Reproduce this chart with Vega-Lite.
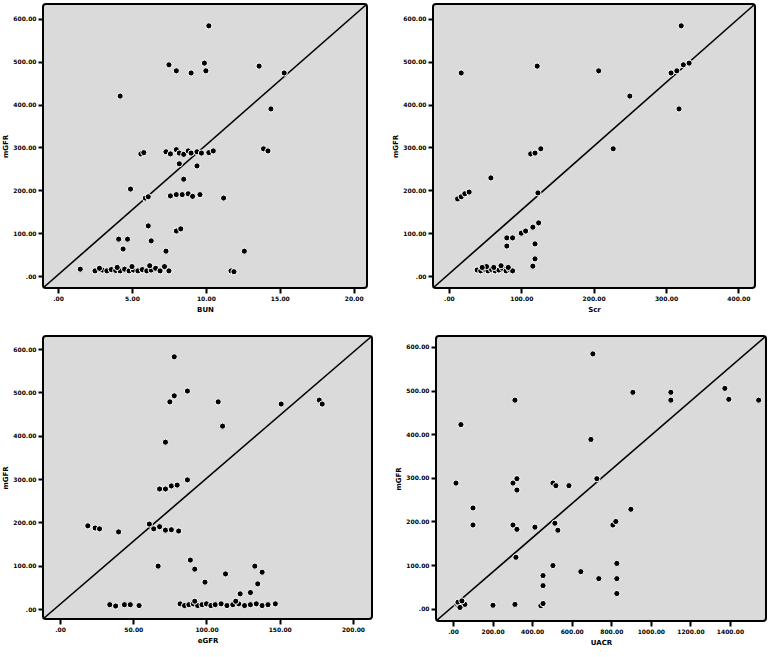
{
  "$schema": "https://vega.github.io/schema/vega-lite/v6.json",
  "padding": {"left": 0, "top": 2, "right": 5, "bottom": 5},
  "background": "white",
  "spacing": 21,
  "datasets": {
    "tl": [{"x":10.2,"y":584},{"x":7.5,"y":493},{"x":8.0,"y":479},{"x":9.0,"y":474},{"x":9.9,"y":497},{"x":10.0,"y":479},{"x":13.6,"y":490},{"x":15.3,"y":474},{"x":4.2,"y":420},{"x":14.4,"y":390},{"x":13.9,"y":297},{"x":14.2,"y":292},
      {"x":5.6,"y":285},{"x":5.8,"y":288},{"x":7.3,"y":290},{"x":7.6,"y":285},{"x":8.0,"y":295},{"x":8.2,"y":287},{"x":8.5,"y":284},{"x":8.8,"y":292},{"x":9.0,"y":287},{"x":9.4,"y":290},{"x":9.7,"y":287},{"x":10.2,"y":288},{"x":10.5,"y":292},
      {"x":9.4,"y":257},{"x":8.2,"y":262},{"x":8.5,"y":226},{"x":4.9,"y":203},{"x":5.9,"y":182},{"x":6.1,"y":185},{"x":7.6,"y":187},{"x":8.0,"y":190},{"x":8.4,"y":190},{"x":8.8,"y":192},{"x":9.1,"y":186},{"x":9.6,"y":190},{"x":11.2,"y":182},
      {"x":4.1,"y":86},{"x":4.7,"y":86},{"x":6.1,"y":117},{"x":4.4,"y":63},{"x":6.3,"y":82},{"x":8.0,"y":105},{"x":8.3,"y":110},{"x":7.3,"y":58},{"x":12.6,"y":58},{"x":11.7,"y":12},{"x":11.9,"y":10},
      {"x":1.5,"y":16},{"x":2.5,"y":12},{"x":3.0,"y":14},{"x":3.3,"y":12},{"x":3.6,"y":15},{"x":3.9,"y":13},{"x":4.2,"y":12},{"x":4.5,"y":16},{"x":4.8,"y":12},{"x":5.1,"y":14},{"x":5.4,"y":12},{"x":5.7,"y":15},{"x":6.0,"y":12},{"x":6.3,"y":14},{"x":6.6,"y":18},{"x":6.9,"y":12},{"x":7.2,"y":22},{"x":2.8,"y":18},{"x":4.0,"y":20},{"x":5.0,"y":22},{"x":6.2,"y":24},{"x":7.5,"y":12}],
    "tr": [{"x":321,"y":584},{"x":17,"y":474},{"x":122,"y":490},{"x":207,"y":479},{"x":307,"y":474},{"x":315,"y":479},{"x":324,"y":493},{"x":332,"y":497},{"x":250,"y":420},{"x":318,"y":390},{"x":227,"y":297},{"x":113,"y":285},{"x":119,"y":287},{"x":127,"y":297},{"x":58,"y":229},{"x":12,"y":180},{"x":17,"y":185},{"x":22,"y":192},{"x":28,"y":196},{"x":123,"y":194},
      {"x":80,"y":89},{"x":80,"y":70},{"x":88,"y":89},{"x":100,"y":100},{"x":106,"y":105},{"x":116,"y":114},{"x":124,"y":124},{"x":119,"y":75},{"x":119,"y":40},{"x":116,"y":23},
      {"x":39,"y":14},{"x":44,"y":12},{"x":49,"y":16},{"x":54,"y":12},{"x":59,"y":15},{"x":64,"y":12},{"x":69,"y":14},{"x":74,"y":18},{"x":79,"y":12},{"x":84,"y":15},{"x":88,"y":12},{"x":52,"y":22},{"x":62,"y":20},{"x":72,"y":24},{"x":46,"y":20},{"x":82,"y":20}],
    "bl": [{"x":78,"y":582},{"x":75,"y":478},{"x":78,"y":492},{"x":87,"y":503},{"x":108,"y":478},{"x":111,"y":422},{"x":151,"y":473},{"x":177,"y":482},{"x":179,"y":473},{"x":72,"y":385},{"x":87,"y":298},{"x":68,"y":277},{"x":72,"y":277},{"x":76,"y":284},{"x":80,"y":286},
      {"x":19,"y":192},{"x":24,"y":187},{"x":27,"y":185},{"x":40,"y":178},{"x":61,"y":196},{"x":64,"y":185},{"x":68,"y":190},{"x":72,"y":182},{"x":76,"y":183},{"x":81,"y":180},
      {"x":67,"y":99},{"x":89,"y":113},{"x":92,"y":92},{"x":99,"y":62},{"x":113,"y":81},{"x":133,"y":99},{"x":138,"y":85},{"x":135,"y":58},{"x":123,"y":35},{"x":130,"y":38},
      {"x":34,"y":10},{"x":38,"y":7},{"x":44,"y":10},{"x":48,"y":10},{"x":54,"y":8},
      {"x":82,"y":12},{"x":85,"y":8},{"x":88,"y":10},{"x":91,"y":12},{"x":94,"y":8},{"x":97,"y":10},{"x":100,"y":12},{"x":103,"y":8},{"x":106,"y":10},{"x":110,"y":12},{"x":114,"y":8},{"x":118,"y":10},{"x":122,"y":12},{"x":126,"y":8},{"x":130,"y":10},{"x":134,"y":12},{"x":138,"y":8},{"x":142,"y":10},{"x":147,"y":12},{"x":92,"y":18},{"x":120,"y":18}],
    "br": [{"x":707,"y":584},{"x":40,"y":422},{"x":313,"y":478},{"x":909,"y":496},{"x":1101,"y":496},{"x":1101,"y":478},{"x":1374,"y":505},{"x":1394,"y":480},{"x":1545,"y":478},{"x":697,"y":388},{"x":15,"y":288},{"x":303,"y":288},{"x":323,"y":298},{"x":323,"y":272},{"x":505,"y":288},{"x":520,"y":282},{"x":586,"y":282},{"x":727,"y":298},{"x":101,"y":231},{"x":101,"y":192},{"x":303,"y":192},{"x":323,"y":182},{"x":414,"y":187},{"x":515,"y":196},{"x":530,"y":180},{"x":808,"y":192},{"x":823,"y":200},{"x":899,"y":228},{"x":318,"y":118},{"x":455,"y":76},{"x":455,"y":53},{"x":505,"y":99},{"x":646,"y":85},{"x":737,"y":69},{"x":828,"y":104},{"x":828,"y":69},{"x":828,"y":35},
      {"x":20,"y":10},{"x":30,"y":5},{"x":40,"y":12},{"x":50,"y":8},{"x":60,"y":10},{"x":25,"y":15},{"x":45,"y":18},{"x":35,"y":3},{"x":202,"y":8},{"x":313,"y":10},{"x":444,"y":7},{"x":455,"y":12}]
  },
  "config": {
    "view": {"fill": "#dadada", "stroke": "#000000", "strokeWidth": 2, "cornerRadius": 3},
    "axis": {
      "domain": false, "grid": false, "tickColor": "#000000", "tickWidth": 2, "tickSize": 5,
      "labelFontSize": 6, "labelFontWeight": "bold", "labelColor": "#000000", "labelFont": "DejaVu Sans",
      "titleFontSize": 7, "titleFontWeight": "bold", "titleColor": "#000000", "titleFont": "DejaVu Sans",
      "labelExpr": "datum.value == 0 ? '.00' : format(datum.value, '.2f')"
    },
    "point": {"filled": true, "color": "#000000", "stroke": "#ffffff", "strokeWidth": 1, "size": 38, "opacity": 1},
    "rule": {"color": "#000000", "strokeWidth": 1.6}
  },
  "vconcat": [
    {"spacing": 21, "hconcat": [
      {"width": 324, "height": 284, "layer": [
        {"data": {"values": [{"x": -1.02, "y": -28, "x2": 20.9, "y2": 635}]}, "mark": "rule",
         "encoding": {"x": {"field": "x", "type": "quantitative", "scale": {"domain": [-1.02, 20.9], "nice": false, "zero": false}, "axis": {"values": [0,5,10,15,20], "title": "BUN"}},
                      "y": {"field": "y", "type": "quantitative", "scale": {"domain": [-28, 635], "nice": false, "zero": false}, "axis": {"values": [0,100,200,300,400,500,600], "title": "mGFR"}},
                      "x2": {"field": "x2"}, "y2": {"field": "y2"}}},
        {"data": {"name": "tl"}, "mark": "point",
         "encoding": {"x": {"field": "x", "type": "quantitative"}, "y": {"field": "y", "type": "quantitative"}}}
      ]},
      {"width": 322, "height": 284, "layer": [
        {"data": {"values": [{"x": -22, "y": -28, "x2": 423, "y2": 635}]}, "mark": "rule",
         "encoding": {"x": {"field": "x", "type": "quantitative", "scale": {"domain": [-22, 423], "nice": false, "zero": false}, "axis": {"values": [0,100,200,300,400], "title": "Scr"}},
                      "y": {"field": "y", "type": "quantitative", "scale": {"domain": [-28, 635], "nice": false, "zero": false}, "axis": {"values": [0,100,200,300,400,500,600], "title": "mGFR"}},
                      "x2": {"field": "x2"}, "y2": {"field": "y2"}}},
        {"data": {"name": "tr"}, "mark": "point",
         "encoding": {"x": {"field": "x", "type": "quantitative"}, "y": {"field": "y", "type": "quantitative"}}}
      ]}
    ]},
    {"spacing": 19, "hconcat": [
      {"width": 329, "height": 283, "layer": [
        {"data": {"values": [{"x": -11.6, "y": -23, "x2": 213, "y2": 630}]}, "mark": "rule",
         "encoding": {"x": {"field": "x", "type": "quantitative", "scale": {"domain": [-11.6, 213], "nice": false, "zero": false}, "axis": {"values": [0,50,100,150,200], "title": "eGFR"}},
                      "y": {"field": "y", "type": "quantitative", "scale": {"domain": [-23, 630], "nice": false, "zero": false}, "axis": {"values": [0,100,200,300,400,500,600], "title": "mGFR"}},
                      "x2": {"field": "x2"}, "y2": {"field": "y2"}}},
        {"data": {"name": "bl"}, "mark": "point",
         "encoding": {"x": {"field": "x", "type": "quantitative"}, "y": {"field": "y", "type": "quantitative"}}}
      ]},
      {"width": 330, "height": 285, "layer": [
        {"data": {"values": [{"x": -86, "y": -28, "x2": 1582, "y2": 625}]}, "mark": "rule",
         "encoding": {"x": {"field": "x", "type": "quantitative", "scale": {"domain": [-86, 1582], "nice": false, "zero": false}, "axis": {"values": [0,200,400,600,800,1000,1200,1400], "title": "UACR"}},
                      "y": {"field": "y", "type": "quantitative", "scale": {"domain": [-28, 625], "nice": false, "zero": false}, "axis": {"values": [0,100,200,300,400,500,600], "title": "mGFR"}},
                      "x2": {"field": "x2"}, "y2": {"field": "y2"}}},
        {"data": {"name": "br"}, "mark": "point",
         "encoding": {"x": {"field": "x", "type": "quantitative"}, "y": {"field": "y", "type": "quantitative"}}}
      ]}
    ]}
  ]
}
